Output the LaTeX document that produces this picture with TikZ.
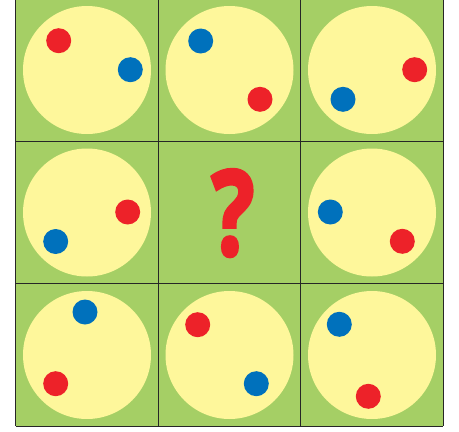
\documentclass[tikz,border=0pt]{standalone}
\usepackage{fontspec}
\newfontfamily\qfont[FakeBold=3]{Open Sans Bold}
\definecolor{cellgreen}{RGB}{165,207,101}
\definecolor{discyellow}{RGB}{254,247,155}
\definecolor{dotred}{RGB}{237,34,41}
\definecolor{dotblue}{RGB}{0,113,188}
\begin{document}
\begin{tikzpicture}[x=1pt,y=-1pt,
  disc/.style={circle,fill=discyellow,minimum size=128pt,inner sep=0pt},
  reddot/.style={circle,fill=dotred,minimum size=25pt,inner sep=0pt},
  bluedot/.style={circle,fill=dotblue,minimum size=25pt,inner sep=0pt},
  gridline/.style={draw=black!85,line width=1.3pt}]
\useasboundingbox (0,0) rectangle (459,432);
\fill[cellgreen] (15.7,-1.3) rectangle (443.2,426.2);
% discs
\node[disc] (d1) at (87,70) {};
\node[disc] (d2) at (229.5,70) {};
\node[disc] (d3) at (372,70) {};
\node[disc] (d4) at (87,212.5) {};
\node[disc] (d6) at (372,212.5) {};
\node[disc] (d7) at (87,355) {};
\node[disc] (d8) at (229.5,355) {};
\node[disc] (d9) at (372,355) {};
% dots
\node[reddot] (r1) at (58.7,40.7) {};
\node[bluedot] (b1) at (130.3,69.7) {};
\node[bluedot] (b2) at (200.7,41) {};
\node[reddot] (r2) at (260,99.3) {};
\node[reddot] (r3) at (414.7,69.7) {};
\node[bluedot] (b3) at (343,99.3) {};
\node[reddot] (r4) at (127.7,212) {};
\node[bluedot] (b4) at (55.7,241.5) {};
\node[bluedot] (b6) at (330.3,212) {};
\node[reddot] (r6) at (402.3,241.3) {};
\node[bluedot] (b7) at (85,312) {};
\node[reddot] (r7) at (55.7,383.7) {};
\node[reddot] (r8) at (197.7,324.7) {};
\node[bluedot] (b8) at (256.3,383.7) {};
\node[bluedot] (b9) at (339.3,324.3) {};
\node[reddot] (r9) at (368.3,396.3) {};
% question mark
\node[text=dotred,inner sep=0pt,anchor=base,xscale=0.76] (q) at (233,255) {\qfont\fontsize{118}{118}\selectfont ?};
% grid
\foreach \x in {15.7,158.2,300.7,443.2}
  \draw[gridline] (\x,-1.3) -- (\x,426.2);
\foreach \y in {-1.3,141.2,283.7,426.2}
  \draw[gridline] (15.7,\y) -- (443.2,\y);
\end{tikzpicture}
\end{document}
